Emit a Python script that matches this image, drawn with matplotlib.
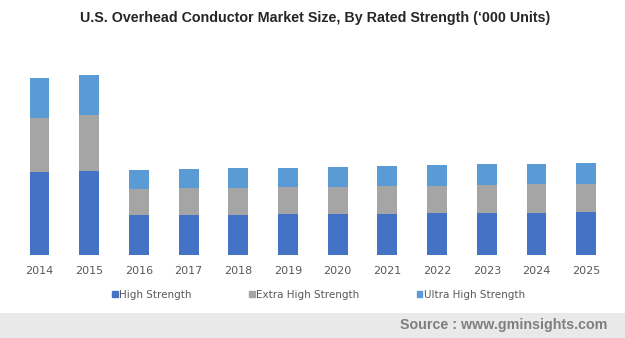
import matplotlib.pyplot as plt
import matplotlib.patches as mpatches
import numpy as np

years = ['2014', '2015', '2016', '2017', '2018', '2019',
         '2020', '2021', '2022', '2023', '2024', '2025']
high = [83, 84, 40, 40, 40, 41, 41, 41, 42, 42, 42, 43]
extra_high = [54, 56, 26, 27, 27, 27, 27, 28, 27, 28, 29, 28]
ultra_high = [40, 40, 19, 19, 20, 19, 20, 20, 21, 21, 20, 21]
labels = ['High Strength', 'Extra High Strength', 'Ultra High Strength']
colors = ['#4472C4', '#A5A5A5', '#5B9BD5']

W, H = 625, 338
fig = plt.figure(figsize=(W / 100, H / 100), dpi=100)

# axes placed in pixel coordinates
left, right, bottom, top = 14.7, 611, 255, 60
ax = fig.add_axes([left / W, 1 - bottom / H, (right - left) / W, (bottom - top) / H])

x = np.arange(len(years))
h = np.array(high)
e = np.array(extra_high)
u = np.array(ultra_high)
ax.bar(x, h, 0.4, color=colors[0], label=labels[0])
ax.bar(x, e, 0.4, bottom=h, color=colors[1], label=labels[1])
ax.bar(x, u, 0.4, bottom=h + e, color=colors[2], label=labels[2])

ax.set_xlim(-0.5, len(years) - 0.5)
ax.set_ylim(0, 195)
ax.set_xticks(x)
ax.set_xticklabels(years, fontsize=8, color='#595959', family='DejaVu Sans')
ax.tick_params(axis='x', length=0, pad=8)
ax.set_yticks([])
for s in ax.spines.values():
    s.set_visible(False)

fig.text(315 / W, 1 - 18 / H, "U.S. Overhead Conductor Market Size, By Rated Strength (\u2018000 Units)",
         ha='center', va='center', fontsize=10.3, fontweight='bold',
         family='Liberation Sans', color='#262626')

handles = [mpatches.Patch(color=c) for c in colors]
leg = fig.legend(handles, labels, loc='center', bbox_to_anchor=(318.5 / W, 1 - 295 / H),
                 ncol=3, frameon=False, handlelength=0.55, handleheight=0.55,
                 handletextpad=0.15, columnspacing=5.5,
                 prop={'family': 'DejaVu Sans', 'size': 7.5})
for t in leg.get_texts():
    t.set_color('#595959')

# source band
fig.patches.append(mpatches.Rectangle((0, 0), 1, 25 / H, transform=fig.transFigure,
                                      facecolor='#E9E9E9', edgecolor='none', zorder=0))
fig.text(607 / W, 12.5 / H, 'Source : www.gminsights.com', ha='right', va='center',
         fontsize=10.3, fontweight='bold', color='#7F7F7F', family='Liberation Sans')

fig.savefig('out.png', dpi=100)
